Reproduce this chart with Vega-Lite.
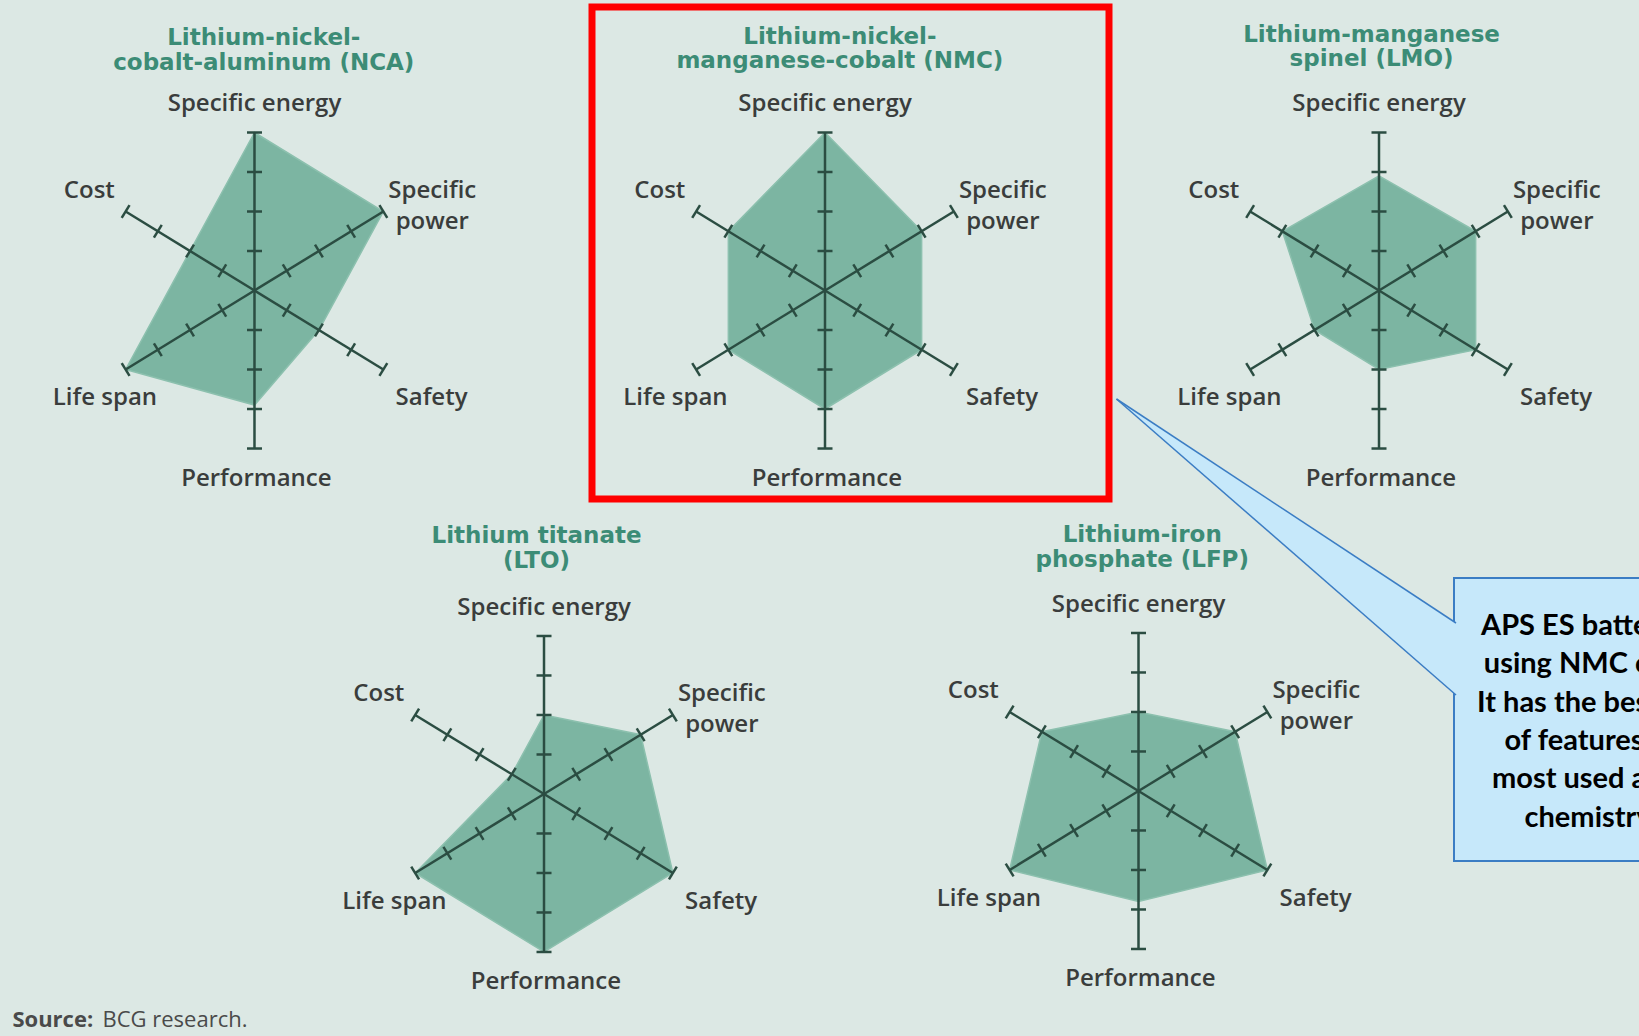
{
  "$schema": "https://vega.github.io/schema/vega-lite/v6.json",
  "background": "#dce8e4",
  "padding": {"left": 0, "top": 3, "right": 0, "bottom": 0},
  "config": {"view": {"stroke": null}},
  "datasets": {
    "scores": [
      {"chem": "NCA", "axis": "Specific energy", "i": 0, "v": 4},
      {"chem": "NCA", "axis": "Specific power", "i": 1, "v": 4},
      {"chem": "NCA", "axis": "Safety", "i": 2, "v": 2},
      {"chem": "NCA", "axis": "Performance", "i": 3, "v": 2.9},
      {"chem": "NCA", "axis": "Life span", "i": 4, "v": 4},
      {"chem": "NCA", "axis": "Cost", "i": 5, "v": 2},
      {"chem": "NMC", "axis": "Specific energy", "i": 0, "v": 4},
      {"chem": "NMC", "axis": "Specific power", "i": 1, "v": 3},
      {"chem": "NMC", "axis": "Safety", "i": 2, "v": 3},
      {"chem": "NMC", "axis": "Performance", "i": 3, "v": 3},
      {"chem": "NMC", "axis": "Life span", "i": 4, "v": 3},
      {"chem": "NMC", "axis": "Cost", "i": 5, "v": 3},
      {"chem": "LMO", "axis": "Specific energy", "i": 0, "v": 2.9},
      {"chem": "LMO", "axis": "Specific power", "i": 1, "v": 3},
      {"chem": "LMO", "axis": "Safety", "i": 2, "v": 3},
      {"chem": "LMO", "axis": "Performance", "i": 3, "v": 2},
      {"chem": "LMO", "axis": "Life span", "i": 4, "v": 2},
      {"chem": "LMO", "axis": "Cost", "i": 5, "v": 3},
      {"chem": "LTO", "axis": "Specific energy", "i": 0, "v": 2},
      {"chem": "LTO", "axis": "Specific power", "i": 1, "v": 3},
      {"chem": "LTO", "axis": "Safety", "i": 2, "v": 4},
      {"chem": "LTO", "axis": "Performance", "i": 3, "v": 4},
      {"chem": "LTO", "axis": "Life span", "i": 4, "v": 4},
      {"chem": "LTO", "axis": "Cost", "i": 5, "v": 1},
      {"chem": "LFP", "axis": "Specific energy", "i": 0, "v": 2},
      {"chem": "LFP", "axis": "Specific power", "i": 1, "v": 3},
      {"chem": "LFP", "axis": "Safety", "i": 2, "v": 4},
      {"chem": "LFP", "axis": "Performance", "i": 3, "v": 2.8},
      {"chem": "LFP", "axis": "Life span", "i": 4, "v": 4},
      {"chem": "LFP", "axis": "Cost", "i": 5, "v": 3}
    ],
    "axes": [
      {"axis": "Specific energy", "i": 0, "label": "Specific energy", "ticks": [1, 2, 3, 4]},
      {"axis": "Specific power", "i": 1, "label": ["Specific", "power"], "ticks": [1, 2, 3, 4]},
      {"axis": "Safety", "i": 2, "label": "Safety", "ticks": [1, 2, 3, 4]},
      {"axis": "Performance", "i": 3, "label": "Performance", "ticks": [1, 2, 3, 4]},
      {"axis": "Life span", "i": 4, "label": "Life span", "ticks": [1, 2, 3, 4]},
      {"axis": "Cost", "i": 5, "label": "Cost", "ticks": [1, 2, 3, 4]}
    ],
    "titles": [
      {"chem": "NCA", "title": ["Lithium-nickel-", "cobalt-aluminum (NCA)"]},
      {"chem": "NMC", "title": ["Lithium-nickel-", "manganese-cobalt (NMC)"]},
      {"chem": "LMO", "title": ["Lithium-manganese", "spinel (LMO)"]},
      {"chem": "LTO", "title": ["Lithium titanate", "(LTO)"]},
      {"chem": "LFP", "title": ["Lithium-iron", "phosphate (LFP)"]}
    ],
    "source": [{"label": "Source:", "text": "BCG research."}],
    "note": [{"note": ["APS ES battery is", "using NMC cells.", "It has the best set", "of features, is", "most used auto", "chemistry."]}],
    "wedge": [
      {"cx": 7.5, "cy": -100, "cy2": -100},
      {"cx": 347, "cy": 124, "cy2": 196}
    ]
  },
  "columns": 3,
  "spacing": 0,
  "bounds": "flush",
  "resolve": {"scale": {"x": "independent", "y": "independent"}},
  "concat": [
    {
      "width": 592, "height": 492,
      "encoding": {
        "x": {"field": "px", "type": "quantitative", "axis": null, "scale": {"domain": [-6.841, 9.073], "nice": false, "zero": false}},
        "y": {"field": "py", "type": "quantitative", "axis": null, "scale": {"domain": [-5.278, 7.177], "nice": false, "zero": false}}
      },
      "layer": [
        {"data": {"name": "scores"}, "transform": [{"filter": "datum.chem === 'NCA'"}, {"calculate": "datum.v * sin(datum.i * PI / 3)", "as": "px"}, {"calculate": "datum.v * cos(datum.i * PI / 3)", "as": "py"}], "mark": {"type": "line", "interpolate": "linear-closed", "fill": "#7cb5a2", "stroke": "#8cc0ae", "strokeWidth": 1.5}, "encoding": {"order": {"field": "i", "type": "quantitative"}}},
        {"data": {"name": "axes"}, "transform": [{"calculate": "0", "as": "px"}, {"calculate": "0", "as": "py"}, {"calculate": "4 * sin(datum.i * PI / 3)", "as": "px2"}, {"calculate": "4 * cos(datum.i * PI / 3)", "as": "py2"}], "mark": {"type": "rule", "color": "#2b4d42", "strokeWidth": 2.5}, "encoding": {"x2": {"field": "px2"}, "y2": {"field": "py2"}}},
        {"data": {"name": "axes"}, "transform": [{"flatten": ["ticks"], "as": ["k"]}, {"calculate": "datum.k * sin(datum.i * PI / 3)", "as": "px"}, {"calculate": "datum.k * cos(datum.i * PI / 3)", "as": "py"}, {"calculate": "datum.i % 3 == 0 ? 0 : (datum.i % 3 == 1 ? 58.5 : -58.5)", "as": "ta"}], "mark": {"type": "point", "shape": "stroke", "size": 225, "strokeWidth": 2.5, "color": "#2b4d42", "filled": false, "opacity": 1}, "encoding": {"angle": {"field": "ta", "type": "quantitative", "scale": null}}},
        {"data": {"name": "axes"}, "transform": [{"calculate": "[0, 4.78, 4.76, 0.05, -4.02, -4.44][datum.i]", "as": "px"}, {"calculate": "[4.71, 2.53, -2.73, -4.76, -2.73, 2.53][datum.i]", "as": "py"}], "mark": {"type": "text", "font": "Open Sans", "fontSize": 24, "fontWeight": 600, "color": "#3a3d3c", "lineHeight": 31, "align": "center", "baseline": "middle"}, "encoding": {"text": {"field": "label"}}},
        {"data": {"name": "titles"}, "transform": [{"filter": "datum.chem === 'NCA'"}, {"calculate": "0.25", "as": "px"}, {"calculate": "6.39", "as": "py"}], "mark": {"type": "text", "font": "DejaVu Sans", "fontSize": 23, "fontWeight": "bold", "color": "#3c8c76", "lineHeight": 24.5, "align": "center", "baseline": "middle"}, "encoding": {"text": {"field": "title"}}}
      ]
    },
    {
      "width": 517, "height": 492,
      "view": {"stroke": "#ff0000", "strokeWidth": 7},
      "encoding": {
        "x": {"field": "px", "type": "quantitative", "axis": null, "scale": {"domain": [-6.263, 7.634], "nice": false, "zero": false}},
        "y": {"field": "py", "type": "quantitative", "axis": null, "scale": {"domain": [-5.278, 7.177], "nice": false, "zero": false}}
      },
      "layer": [
        {"data": {"name": "scores"}, "transform": [{"filter": "datum.chem === 'NMC'"}, {"calculate": "datum.v * sin(datum.i * PI / 3)", "as": "px"}, {"calculate": "datum.v * cos(datum.i * PI / 3)", "as": "py"}], "mark": {"type": "line", "interpolate": "linear-closed", "fill": "#7cb5a2", "stroke": "#8cc0ae", "strokeWidth": 1.5}, "encoding": {"order": {"field": "i", "type": "quantitative"}}},
        {"data": {"name": "axes"}, "transform": [{"calculate": "0", "as": "px"}, {"calculate": "0", "as": "py"}, {"calculate": "4 * sin(datum.i * PI / 3)", "as": "px2"}, {"calculate": "4 * cos(datum.i * PI / 3)", "as": "py2"}], "mark": {"type": "rule", "color": "#2b4d42", "strokeWidth": 2.5}, "encoding": {"x2": {"field": "px2"}, "y2": {"field": "py2"}}},
        {"data": {"name": "axes"}, "transform": [{"flatten": ["ticks"], "as": ["k"]}, {"calculate": "datum.k * sin(datum.i * PI / 3)", "as": "px"}, {"calculate": "datum.k * cos(datum.i * PI / 3)", "as": "py"}, {"calculate": "datum.i % 3 == 0 ? 0 : (datum.i % 3 == 1 ? 58.5 : -58.5)", "as": "ta"}], "mark": {"type": "point", "shape": "stroke", "size": 225, "strokeWidth": 2.5, "color": "#2b4d42", "filled": false, "opacity": 1}, "encoding": {"angle": {"field": "ta", "type": "quantitative", "scale": null}}},
        {"data": {"name": "axes"}, "transform": [{"calculate": "[0, 4.78, 4.76, 0.05, -4.02, -4.44][datum.i]", "as": "px"}, {"calculate": "[4.71, 2.53, -2.73, -4.76, -2.73, 2.53][datum.i]", "as": "py"}], "mark": {"type": "text", "font": "Open Sans", "fontSize": 24, "fontWeight": 600, "color": "#3a3d3c", "lineHeight": 31, "align": "center", "baseline": "middle"}, "encoding": {"text": {"field": "label"}}},
        {"data": {"name": "titles"}, "transform": [{"filter": "datum.chem === 'NMC'"}, {"calculate": "0.4", "as": "px"}, {"calculate": "6.43", "as": "py"}], "mark": {"type": "text", "font": "DejaVu Sans", "fontSize": 23, "fontWeight": "bold", "color": "#3c8c76", "lineHeight": 24.5, "align": "center", "baseline": "middle"}, "encoding": {"text": {"field": "title"}}}
      ]
    },
    {
      "width": 530, "height": 492,
      "encoding": {
        "x": {"field": "px", "type": "quantitative", "axis": null, "scale": {"domain": [-7.258, 6.989], "nice": false, "zero": false}},
        "y": {"field": "py", "type": "quantitative", "axis": null, "scale": {"domain": [-5.278, 7.177], "nice": false, "zero": false}}
      },
      "layer": [
        {"data": {"name": "scores"}, "transform": [{"filter": "datum.chem === 'LMO'"}, {"calculate": "datum.v * sin(datum.i * PI / 3)", "as": "px"}, {"calculate": "datum.v * cos(datum.i * PI / 3)", "as": "py"}], "mark": {"type": "line", "interpolate": "linear-closed", "fill": "#7cb5a2", "stroke": "#8cc0ae", "strokeWidth": 1.5}, "encoding": {"order": {"field": "i", "type": "quantitative"}}},
        {"data": {"name": "axes"}, "transform": [{"calculate": "0", "as": "px"}, {"calculate": "0", "as": "py"}, {"calculate": "4 * sin(datum.i * PI / 3)", "as": "px2"}, {"calculate": "4 * cos(datum.i * PI / 3)", "as": "py2"}], "mark": {"type": "rule", "color": "#2b4d42", "strokeWidth": 2.5}, "encoding": {"x2": {"field": "px2"}, "y2": {"field": "py2"}}},
        {"data": {"name": "axes"}, "transform": [{"flatten": ["ticks"], "as": ["k"]}, {"calculate": "datum.k * sin(datum.i * PI / 3)", "as": "px"}, {"calculate": "datum.k * cos(datum.i * PI / 3)", "as": "py"}, {"calculate": "datum.i % 3 == 0 ? 0 : (datum.i % 3 == 1 ? 58.5 : -58.5)", "as": "ta"}], "mark": {"type": "point", "shape": "stroke", "size": 225, "strokeWidth": 2.5, "color": "#2b4d42", "filled": false, "opacity": 1}, "encoding": {"angle": {"field": "ta", "type": "quantitative", "scale": null}}},
        {"data": {"name": "axes"}, "transform": [{"calculate": "[0, 4.78, 4.76, 0.05, -4.02, -4.44][datum.i]", "as": "px"}, {"calculate": "[4.71, 2.53, -2.73, -4.76, -2.73, 2.53][datum.i]", "as": "py"}], "mark": {"type": "text", "font": "Open Sans", "fontSize": 24, "fontWeight": 600, "color": "#3a3d3c", "lineHeight": 31, "align": "center", "baseline": "middle"}, "encoding": {"text": {"field": "label"}}},
        {"data": {"name": "titles"}, "transform": [{"filter": "datum.chem === 'LMO'"}, {"calculate": "-0.2", "as": "px"}, {"calculate": "6.47", "as": "py"}], "mark": {"type": "text", "font": "DejaVu Sans", "fontSize": 23, "fontWeight": "bold", "color": "#3c8c76", "lineHeight": 24.5, "align": "center", "baseline": "middle"}, "encoding": {"text": {"field": "title"}}}
      ]
    },
    {
      "width": 592, "height": 537,
      "encoding": {
        "x": {"field": "px", "type": "quantitative", "axis": null, "scale": {"domain": [-14.624, 1.29], "nice": false, "zero": false}},
        "y": {"field": "py", "type": "quantitative", "axis": null, "scale": {"domain": [-6.127, 7.468], "nice": false, "zero": false}}
      },
      "layer": [
        {"data": {"name": "scores"}, "transform": [{"filter": "datum.chem === 'LTO'"}, {"calculate": "datum.v * sin(datum.i * PI / 3)", "as": "px"}, {"calculate": "datum.v * cos(datum.i * PI / 3)", "as": "py"}], "mark": {"type": "line", "interpolate": "linear-closed", "fill": "#7cb5a2", "stroke": "#8cc0ae", "strokeWidth": 1.5}, "encoding": {"order": {"field": "i", "type": "quantitative"}}},
        {"data": {"name": "axes"}, "transform": [{"calculate": "0", "as": "px"}, {"calculate": "0", "as": "py"}, {"calculate": "4 * sin(datum.i * PI / 3)", "as": "px2"}, {"calculate": "4 * cos(datum.i * PI / 3)", "as": "py2"}], "mark": {"type": "rule", "color": "#2b4d42", "strokeWidth": 2.5}, "encoding": {"x2": {"field": "px2"}, "y2": {"field": "py2"}}},
        {"data": {"name": "axes"}, "transform": [{"flatten": ["ticks"], "as": ["k"]}, {"calculate": "datum.k * sin(datum.i * PI / 3)", "as": "px"}, {"calculate": "datum.k * cos(datum.i * PI / 3)", "as": "py"}, {"calculate": "datum.i % 3 == 0 ? 0 : (datum.i % 3 == 1 ? 58.5 : -58.5)", "as": "ta"}], "mark": {"type": "point", "shape": "stroke", "size": 225, "strokeWidth": 2.5, "color": "#2b4d42", "filled": false, "opacity": 1}, "encoding": {"angle": {"field": "ta", "type": "quantitative", "scale": null}}},
        {"data": {"name": "axes"}, "transform": [{"calculate": "[0, 4.78, 4.76, 0.05, -4.02, -4.44][datum.i]", "as": "px"}, {"calculate": "[4.71, 2.53, -2.73, -4.76, -2.73, 2.53][datum.i]", "as": "py"}], "mark": {"type": "text", "font": "Open Sans", "fontSize": 24, "fontWeight": 600, "color": "#3a3d3c", "lineHeight": 31, "align": "center", "baseline": "middle"}, "encoding": {"text": {"field": "label"}}},
        {"data": {"name": "titles"}, "transform": [{"filter": "datum.chem === 'LTO'"}, {"calculate": "-0.2", "as": "px"}, {"calculate": "6.52", "as": "py"}], "mark": {"type": "text", "font": "DejaVu Sans", "fontSize": 23, "fontWeight": "bold", "color": "#3c8c76", "lineHeight": 24.5, "align": "center", "baseline": "middle"}, "encoding": {"text": {"field": "title"}}},
        {"data": {"name": "source"}, "transform": [{"calculate": "-14.29", "as": "px"}, {"calculate": "-5.72", "as": "py"}], "mark": {"type": "text", "font": "Open Sans", "fontSize": 22, "fontWeight": "bold", "color": "#4a4a4a", "align": "left", "baseline": "middle"}, "encoding": {"text": {"field": "label"}}},
        {"data": {"name": "source"}, "transform": [{"calculate": "-11.87", "as": "px"}, {"calculate": "-5.72", "as": "py"}], "mark": {"type": "text", "font": "Open Sans", "fontSize": 22, "color": "#4a4a4a", "align": "left", "baseline": "middle"}, "encoding": {"text": {"field": "text"}}}
      ]
    },
    {
      "width": 517, "height": 537,
      "encoding": {
        "x": {"field": "px", "type": "quantitative", "axis": null, "scale": {"domain": [-14.691, -0.793], "nice": false, "zero": false}},
        "y": {"field": "py", "type": "quantitative", "axis": null, "scale": {"domain": [-6.203, 7.392], "nice": false, "zero": false}}
      },
      "layer": [
        {"data": {"name": "scores"}, "transform": [{"filter": "datum.chem === 'LFP'"}, {"calculate": "datum.v * sin(datum.i * PI / 3)", "as": "px"}, {"calculate": "datum.v * cos(datum.i * PI / 3)", "as": "py"}], "mark": {"type": "line", "interpolate": "linear-closed", "fill": "#7cb5a2", "stroke": "#8cc0ae", "strokeWidth": 1.5}, "encoding": {"order": {"field": "i", "type": "quantitative"}}},
        {"data": {"name": "axes"}, "transform": [{"calculate": "0", "as": "px"}, {"calculate": "0", "as": "py"}, {"calculate": "4 * sin(datum.i * PI / 3)", "as": "px2"}, {"calculate": "4 * cos(datum.i * PI / 3)", "as": "py2"}], "mark": {"type": "rule", "color": "#2b4d42", "strokeWidth": 2.5}, "encoding": {"x2": {"field": "px2"}, "y2": {"field": "py2"}}},
        {"data": {"name": "axes"}, "transform": [{"flatten": ["ticks"], "as": ["k"]}, {"calculate": "datum.k * sin(datum.i * PI / 3)", "as": "px"}, {"calculate": "datum.k * cos(datum.i * PI / 3)", "as": "py"}, {"calculate": "datum.i % 3 == 0 ? 0 : (datum.i % 3 == 1 ? 58.5 : -58.5)", "as": "ta"}], "mark": {"type": "point", "shape": "stroke", "size": 225, "strokeWidth": 2.5, "color": "#2b4d42", "filled": false, "opacity": 1}, "encoding": {"angle": {"field": "ta", "type": "quantitative", "scale": null}}},
        {"data": {"name": "axes"}, "transform": [{"calculate": "[0, 4.78, 4.76, 0.05, -4.02, -4.44][datum.i]", "as": "px"}, {"calculate": "[4.71, 2.53, -2.73, -4.76, -2.73, 2.53][datum.i]", "as": "py"}], "mark": {"type": "text", "font": "Open Sans", "fontSize": 24, "fontWeight": 600, "color": "#3a3d3c", "lineHeight": 31, "align": "center", "baseline": "middle"}, "encoding": {"text": {"field": "label"}}},
        {"data": {"name": "titles"}, "transform": [{"filter": "datum.chem === 'LFP'"}, {"calculate": "0.1", "as": "px"}, {"calculate": "6.48", "as": "py"}], "mark": {"type": "text", "font": "DejaVu Sans", "fontSize": 23, "fontWeight": "bold", "color": "#3c8c76", "lineHeight": 24.5, "align": "center", "baseline": "middle"}, "encoding": {"text": {"field": "title"}}}
      ]
    },
    {
      "width": 530, "height": 537,
      "encoding": {
        "x": {"field": "cx", "type": "quantitative", "axis": null, "scale": {"domain": [0, 530], "nice": false, "zero": false}},
        "y": {"field": "cy", "type": "quantitative", "axis": null, "scale": {"domain": [0, 537], "nice": false, "zero": false, "reverse": true}}
      },
      "layer": [
        {"data": {"name": "note"}, "transform": [{"calculate": "345", "as": "cx"}, {"calculate": "700", "as": "cx2"}, {"calculate": "79", "as": "cy"}, {"calculate": "362", "as": "cy2"}], "mark": {"type": "rect", "fill": "#c6e8fa", "stroke": "#3b7dc4", "strokeWidth": 2, "clip": true}, "encoding": {"x2": {"field": "cx2"}, "y2": {"field": "cy2"}}},
        {"data": {"name": "wedge"}, "mark": {"type": "area", "fill": "#c6e8fa", "opacity": 1}, "encoding": {"y2": {"field": "cy2"}}},
        {"data": {"name": "wedge"}, "mark": {"type": "line", "stroke": "#3b7dc4", "strokeWidth": 1.5}, "encoding": {}},
        {"data": {"name": "wedge"}, "mark": {"type": "line", "stroke": "#3b7dc4", "strokeWidth": 1.5}, "encoding": {"y": {"field": "cy2", "type": "quantitative"}}},
        {"data": {"name": "note"}, "transform": [{"calculate": "482", "as": "cx"}, {"calculate": "127", "as": "cy"}], "mark": {"type": "text", "font": "Lato", "fontSize": 29, "fontWeight": "bold", "color": "#000000", "lineHeight": 38.3, "align": "center", "baseline": "middle", "clip": true}, "encoding": {"text": {"field": "note"}}}
      ]
    }
  ]
}
